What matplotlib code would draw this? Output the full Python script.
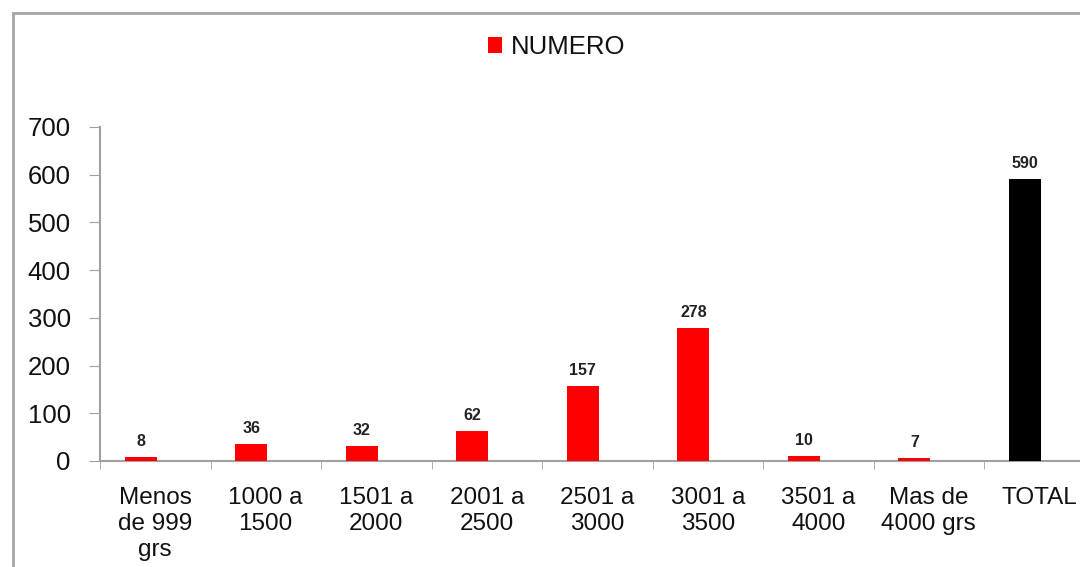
import matplotlib
matplotlib.use("Agg")
import matplotlib.pyplot as plt
from matplotlib.patches import Rectangle, Patch

plt.rcParams['font.family'] = ['Liberation Sans', 'DejaVu Sans']

categories = ["Menos\nde 999\ngrs", "1000 a\n1500", "1501 a\n2000", "2001 a\n2500",
              "2501 a\n3000", "3001 a\n3500", "3501 a\n4000", "Mas de\n4000 grs", "TOTAL"]
values = [8, 36, 32, 62, 157, 278, 10, 7, 590]
colors = ["#ff0000"] * 8 + ["#000000"]
yticks = [0, 100, 200, 300, 400, 500, 600, 700]

fig = plt.figure(figsize=(10.8, 5.67), dpi=100)
fig.patches.append(Rectangle((13/1080, -0.1), 1.2, 1 - 13/567 + 0.1, transform=fig.transFigure,
                             fill=False, edgecolor="#a6a6a6", linewidth=2, zorder=0))

ax = fig.add_axes([100/1080, 106/567, 994.5/1080, 334/567])
x = list(range(len(categories)))
offset = -0.13
bar_x = [xi + offset for xi in x]
ax.bar(bar_x, values, width=0.29, color=colors, zorder=3)
for bx, v in zip(bar_x, values):
    ax.text(bx, v + 17, str(v), ha="center", va="bottom", fontsize=11.5, fontweight="bold", color="#222222")

ax.set_xlim(-0.5, len(categories) - 0.5)
ax.set_ylim(0, 700)
ax.set_yticks(yticks)
ax.set_yticklabels([str(t) for t in yticks], fontsize=18.5, color="#111111")
ax.set_xticks(x)
ax.set_xticklabels(categories, fontsize=17.5, linespacing=1.22, va="top", color="#111111")
ax.tick_params(axis="x", length=0, pad=19)
ax.set_xticks([i - 0.5 for i in range(len(categories) + 1)], minor=True)
ax.tick_params(axis="x", which="minor", length=6, color="#a0a0a0", direction="out")
ax.tick_params(axis="y", length=8, color="#a0a0a0", direction="out", pad=13)
for s in ["top", "right"]:
    ax.spines[s].set_visible(False)
for s in ["left", "bottom"]:
    ax.spines[s].set_color("#a0a0a0")
    ax.spines[s].set_linewidth(1.5)

handle = Patch(facecolor="#ff0000", edgecolor="none")
fig.legend([handle], ["NUMERO"], loc="center", bbox_to_anchor=(557/1080, 1 - 47/567),
           frameon=False, fontsize=18.5, handlelength=0.55, handleheight=0.55, handletextpad=0.35,
           labelcolor="#111111")

fig.savefig("out.png", dpi=100)
